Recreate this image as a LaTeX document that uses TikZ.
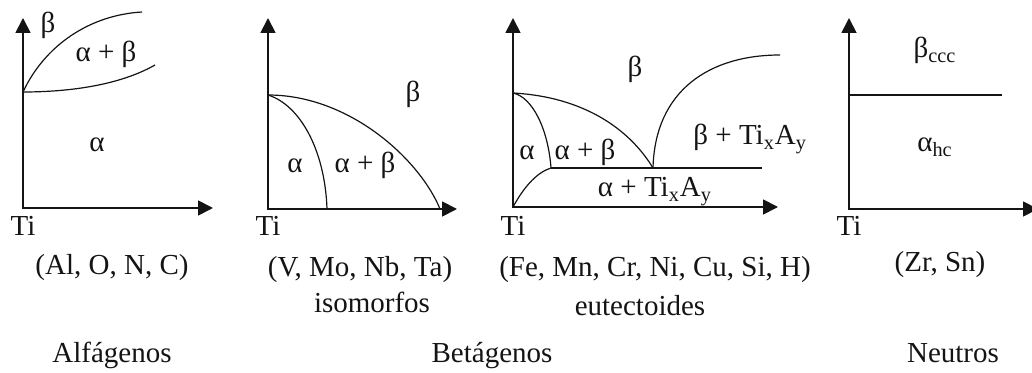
\documentclass[tikz,border=0pt]{standalone}
\usepackage{fontspec}
\setmainfont{Liberation Serif}
\usetikzlibrary{arrows.meta}
\definecolor{ink}{RGB}{20,20,20}
\tikzset{
  axis/.style={draw=ink,line width=0.9pt,{Triangle[length=7.5pt,width=7.5pt]}-{Triangle[length=7.5pt,width=7.5pt]}},
  border/.style={draw=ink,line width=0.6pt},
  lab/.style={font=\fontsize{14.5}{17}\selectfont,text=ink,inner sep=0pt,
    text height=0.7em,text depth=0.2em},
}

\begin{document}
\begin{tikzpicture}[x=0.5pt,y=-0.5pt]
  \useasboundingbox (0,0) rectangle (1032,373);
  % axes of the four diagrams
  \foreach \n/\ox/\oy/\tx in {a/23/208/213,b/268/209/457,c/513/207/778,d/849/209/1038}{
    \coordinate (o\n) at (\ox,\oy);
    \draw[axis] (\ox,18) |- (\tx,\oy);
    \node[lab] (ti\n) at (\ox,231) {Ti};
  }
  % alfagenos
  \coordinate (ta) at (23,92);
  \draw[border] (ta) .. controls (45,45) and (90,15) .. (142,12);
  \draw[border] (ta) .. controls (70,92) and (120,85) .. (155,65);
  \node[lab] (ba) at (48,28) {β};
  \node[lab] (aba) at (106,57) {α + β};
  \node[lab] (aa) at (97,147) {α};
  \node[lab] (ela) at (112,270) {(Al, O, N, C)};
  \node[lab] (alfa) at (112,358) {Alfágenos};
  % isomorfos
  \coordinate (tb) at (268,95);
  \draw[border] (tb) .. controls (300,105) and (325,150) .. (327,209);
  \draw[border] (tb) .. controls (350,95) and (420,160) .. (440,209);
  \node[lab] (bb) at (413,97) {β};
  \node[lab] (ab) at (295,168) {α};
  \node[lab] (abb) at (365,168) {α + β};
  \node[lab] (elb) at (360,272) {(V, Mo, Nb, Ta)};
  \node[lab] (iso) at (372,308) {isomorfos};
  % eutectoides
  \coordinate (tc) at (513,93);
  \coordinate (eut) at (653,168);
  \coordinate (ac) at (551,168);
  \draw[border] (tc) .. controls (585,97) and (630,130) .. (eut);
  \draw[border] (tc) .. controls (532,97) and (548,128) .. (ac);
  \draw[border] (oc) .. controls (525,185) and (538,172) .. (ac);
  \draw[border] (ac) -- (762,168);
  \draw[border] (eut) .. controls (655,90) and (710,55) .. (780,55);
  \node[lab] (bc) at (635,72) {β};
  \node[lab] (acl) at (527,155) {α};
  \node[lab] (abc) at (585,155) {α + β};
  \node[lab,anchor=west] (btc) at (693,140) {β + Ti\textsubscript{x}A\textsubscript{y}};
  \node[lab] (atc) at (655,192) {α + Ti\textsubscript{x}A\textsubscript{y}};
  \node[lab] (elc) at (655,272) {(Fe, Mn, Cr, Ni, Cu, Si, H)};
  \node[lab] (eu) at (640,310) {eutectoides};
  \node[lab] (beta) at (492,358) {Betágenos};
  % neutros
  \draw[border] (849,95) -- (1002,95);
  \node[lab] (bd) at (935,53) {β\textsubscript{ccc}};
  \node[lab] (ad) at (935,147) {α\textsubscript{hc}};
  \node[lab] (eld) at (940,267) {(Zr, Sn)};
  \node[lab] (neu) at (953,358) {Neutros};
\end{tikzpicture}
\end{document}
